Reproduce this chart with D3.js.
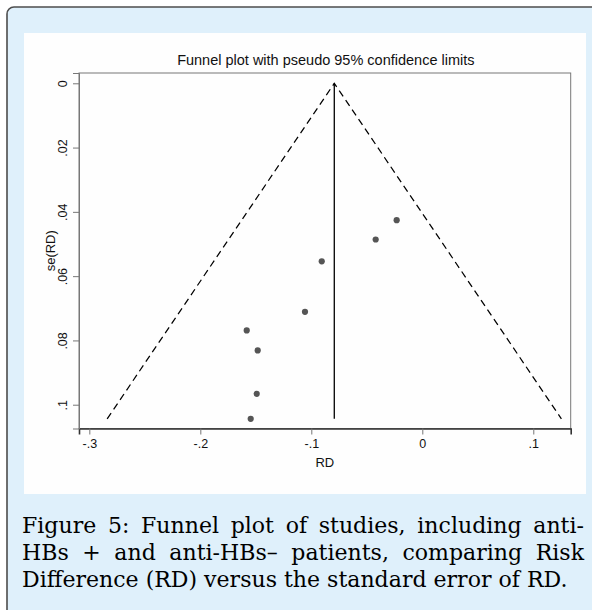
<!DOCTYPE html>
<html lang="en">
<head>
<meta charset="UTF-8">
<title>Funnel plot</title>
<script src="https://d3js.org/d3.v7.min.js"></script>
<style>
  body { margin: 0; background: #fff; }
  svg { display: block; }
</style>
</head>
<body>
<script>
    // study estimates
    const rd = [-0.0231, -0.0420, -0.0906, -0.1057, -0.1582, -0.1483, -0.1492, -0.1546]
    const seRd = [0.0426, 0.0486, 0.0554, 0.0711, 0.0769, 0.0831, 0.0966, 0.1044]
    const pooledRd = -0.0793

    const xTicks = [-0.3, -0.2, -0.1, 0, 0.1]
    const yTicks = [0, 0.02, 0.04, 0.06, 0.08, 0.1]

    const title = 'Funnel plot with pseudo 95% confidence limits'
    const xLabel = 'RD'
    const yLabel = 'se(RD)'
    const captionLines = [
        'Figure 5: Funnel plot of studies, including anti-',
        'HBs + and anti-HBs\u2013 patients, comparing Risk',
        'Difference (RD) versus the standard error of RD.'
    ]

    const width = 592, height = 610
    const plot = {left: 79, right: 570.7, top: 73, bottom: 428.5}

    const svg = d3.select('body').append('svg')
        .attr('width', width)
        .attr('height', height)

    // card background
    svg.append('rect')
        .attr('x', 7).attr('y', 7)
        .attr('width', 620).attr('height', 640)
        .attr('rx', 7)
        .attr('fill', '#dff0fb')
        .attr('stroke', '#4d4d4d')
        .attr('stroke-width', 1.6)

    svg.append('rect')
        .attr('x', 24).attr('y', 33)
        .attr('width', 562).attr('height', 461)
        .attr('fill', '#fefefe')

    const x = d3.scaleLinear().domain([-0.3093, 0.1337]).range([plot.left, plot.right])
    const y = d3.scaleLinear().domain([-0.0032, 0.1074]).range([plot.top, plot.bottom])

    const fmt = v => v === 0 ? '0' : String(v).replace('0.', '.')

    // plot region outline
    svg.append('rect')
        .attr('x', plot.left).attr('y', plot.top)
        .attr('width', plot.right - plot.left)
        .attr('height', plot.bottom - plot.top)
        .attr('fill', 'none')
        .attr('stroke', '#777')
        .attr('stroke-width', 1)

    // x axis
    let gx = svg.append('g')
        .attr('transform', 'translate(0,' + plot.bottom + ')')
        .call(d3.axisBottom(x).tickValues(xTicks).tickFormat(fmt).tickSize(6).tickPadding(5))
    gx.select('.domain').attr('stroke', '#333').attr('stroke-width', 1.6)
    gx.selectAll('.tick line').attr('stroke', '#777')
    gx.selectAll('.tick text')
        .attr('font-family', 'Liberation Sans, Arial, sans-serif')
        .attr('font-size', 12.5)
        .attr('fill', '#111')

    // y axis, labels turned like Stata does
    let gy = svg.append('g')
        .attr('transform', 'translate(' + plot.left + ',0)')
        .call(d3.axisLeft(y).tickValues(yTicks).tickFormat(fmt).tickSize(6))
    gy.select('.domain').attr('stroke', '#777')
    gy.selectAll('.tick line').attr('stroke', '#777')
    gy.selectAll('.tick text')
        .attr('transform', 'rotate(-90)')
        .attr('x', 0)
        .attr('y', -12)
        .attr('dy', 0)
        .attr('text-anchor', 'middle')
        .attr('font-family', 'Liberation Sans, Arial, sans-serif')
        .attr('font-size', 12.5)
        .attr('fill', '#111')

    // pseudo 95% limits
    const maxSe = d3.max(seRd)
    const funnel = [
        [pooledRd - 1.96 * maxSe, maxSe],
        [pooledRd, 0],
        [pooledRd + 1.96 * maxSe, maxSe]
    ]
    const line = d3.line().x(d => x(d[0])).y(d => y(d[1]))

    svg.append('path')
        .attr('d', line(funnel))
        .attr('fill', 'none')
        .attr('stroke', '#000')
        .attr('stroke-width', 1.25)
        .attr('stroke-dasharray', '7,4.5')

    svg.append('path')
        .attr('d', line([[pooledRd, 0], [pooledRd, maxSe]]))
        .attr('fill', 'none')
        .attr('stroke', '#000')
        .attr('stroke-width', 1.3)

    // studies
    svg.append('g')
        .selectAll('circle')
        .data(rd)
        .enter()
        .append('circle')
        .attr('cx', d => x(d))
        .attr('cy', (d, i) => y(seRd[i]))
        .attr('r', 3.1)
        .attr('fill', '#555')

    // titles
    svg.append('text')
        .attr('x', (plot.left + plot.right) / 2 + 1)
        .attr('y', 65)
        .attr('text-anchor', 'middle')
        .attr('font-family', 'Liberation Sans, Arial, sans-serif')
        .attr('font-size', 14.5)
        .attr('fill', '#111')
        .text(title)

    svg.append('text')
        .attr('x', (plot.left + plot.right) / 2)
        .attr('y', 467)
        .attr('text-anchor', 'middle')
        .attr('font-family', 'Liberation Sans, Arial, sans-serif')
        .attr('font-size', 13)
        .attr('fill', '#111')
        .text(xLabel)

    svg.append('text')
        .attr('transform', 'translate(54.5,' + (plot.top + plot.bottom) / 2 + ') rotate(-90)')
        .attr('text-anchor', 'middle')
        .attr('font-family', 'Liberation Sans, Arial, sans-serif')
        .attr('font-size', 13)
        .attr('fill', '#111')
        .text(yLabel)

    // caption, justified by hand
    const capLeft = 22, capRight = 584
    const capFont = 'DejaVu Serif, serif'
    let probe = svg.append('text')
        .attr('font-family', capFont)
        .attr('font-size', 20)
        .text(captionLines[2])
    let capSize = 20 * 546 / probe.node().getComputedTextLength()
    probe.remove()

    const baselines = [533, 560, 587]
    captionLines.forEach(function (txt, li) {
        if (li === captionLines.length - 1) {
            svg.append('text')
                .attr('x', capLeft)
                .attr('y', baselines[li])
                .attr('font-family', capFont)
                .attr('font-size', capSize)
                .attr('fill', '#000')
                .text(txt)
            return
        }
        let words = txt.split(' ')
        let nodes = words.map(w => svg.append('text')
            .attr('y', baselines[li])
            .attr('font-family', capFont)
            .attr('font-size', capSize)
            .attr('fill', '#000')
            .text(w))
        let widths = nodes.map(n => n.node().getComputedTextLength())
        let gap = (capRight - capLeft - d3.sum(widths)) / (words.length - 1)
        let cx = capLeft
        nodes.forEach(function (n, i) {
            n.attr('x', cx)
            cx += widths[i] + gap
        })
    })
</script>
</body>
</html>
